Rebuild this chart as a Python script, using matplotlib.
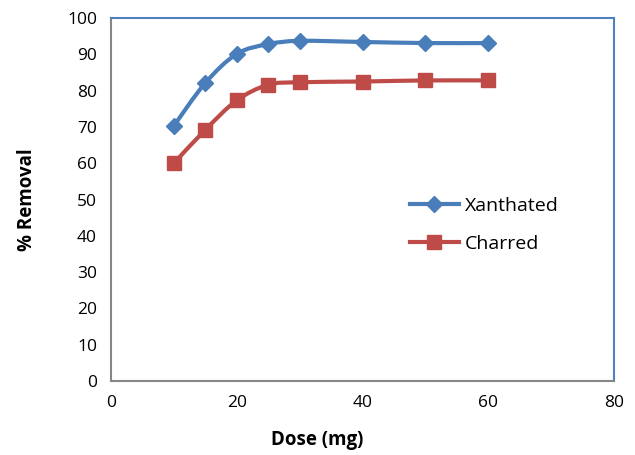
import matplotlib.pyplot as plt
from matplotlib.path import Path
from matplotlib.patches import PathPatch
from matplotlib.lines import Line2D

dose = [10, 15, 20, 25, 30, 40, 50, 60]
xanthated = [70.3, 82.1, 90.1, 92.8, 93.7, 93.4, 93.1, 93.1]
charred = [60.0, 69.2, 77.3, 81.6, 82.3, 82.5, 82.8, 82.8]

x_ticks = [0, 20, 40, 60, 80]
y_ticks = list(range(0, 101, 10))

plt.rcParams['font.family'] = ['Open Sans', 'DejaVu Sans']


def smooth_path(xs, ys):
    # Excel-like smoothed line: cubic bezier through every point
    pts = list(zip(xs, ys))
    n = len(pts)
    verts = [pts[0]]
    codes = [Path.MOVETO]
    for i in range(n - 1):
        p0 = pts[max(i - 1, 0)]
        p1 = pts[i]
        p2 = pts[i + 1]
        p3 = pts[min(i + 2, n - 1)]
        c1 = (p1[0] + (p2[0] - p0[0]) / 6, p1[1] + (p2[1] - p0[1]) / 6)
        c2 = (p2[0] - (p3[0] - p1[0]) / 6, p2[1] - (p3[1] - p1[1]) / 6)
        verts += [c1, c2, p2]
        codes += [Path.CURVE4] * 3
    return Path(verts, codes)


fig = plt.figure(figsize=(6.35, 4.55), dpi=100)
ax = fig.add_axes([111 / 635, 1 - 381 / 455, 503 / 635, 363 / 455])

series = [
    ('Xanthated', xanthated, '#4A7EBB', 'D', 8.5),
    ('Charred', charred, '#BE4B48', 's', 10),
]
handles = []
for name, vals, col, mk, ms in series:
    ax.add_patch(PathPatch(smooth_path(dose, vals), fill=False, edgecolor=col,
                           lw=3, capstyle='round', joinstyle='round'))
    ax.plot(dose, vals, ls='none', marker=mk, ms=ms, color=col)
    handles.append(Line2D([], [], color=col, lw=3, marker=mk, ms=ms, label=name))

ax.set_xlim(0, 80)
ax.set_ylim(0, 100)
ax.set_xticks(x_ticks)
ax.set_yticks(y_ticks)
ax.tick_params(length=0, labelsize=12.5, pad=10)

for side in ['left', 'bottom']:
    ax.spines[side].set_color('#868686')
for side in ['top', 'right']:
    ax.spines[side].set_color('#4F81BD')
for s in ax.spines.values():
    s.set_linewidth(1.5)

ax.set_xlabel('Dose (mg)', fontsize=13.5, fontweight='bold', labelpad=14, x=0.41)
ax.set_ylabel('% Removal', fontsize=13.5, fontweight='bold', labelpad=22)

ax.legend(handles=handles, loc='center left', bbox_to_anchor=(0.56, 0.43),
          frameon=False, fontsize=14, handlelength=2.5, labelspacing=1.05,
          handletextpad=0.3)

fig.savefig('out.png', dpi=100)
